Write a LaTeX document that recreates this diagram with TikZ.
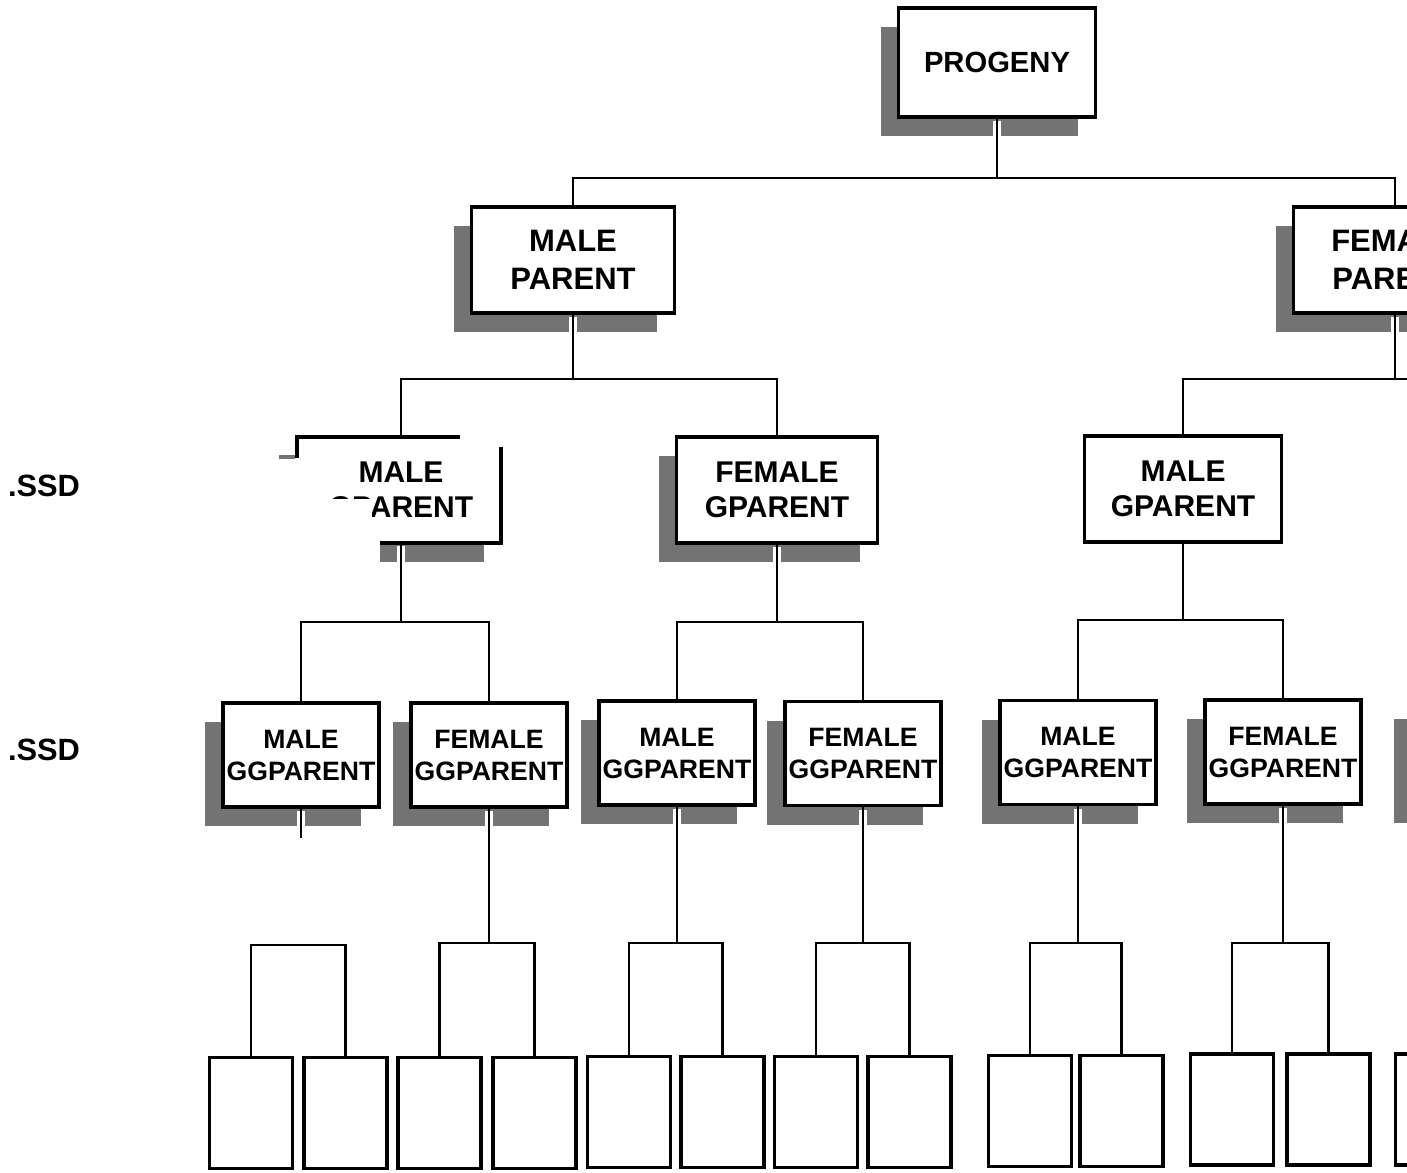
\documentclass[tikz,border=0pt]{standalone}
\usepackage{fontspec}
\setmainfont{Liberation Sans}
\usetikzlibrary{shadows}
\begin{document}
\begin{tikzpicture}[x=0.5pt,y=-0.5pt,
  card/.style={draw, line width=1.6pt, fill=white, inner sep=0pt, align=center},
  shade/.style={drop shadow={shadow xshift=-9pt, shadow yshift=-9.5pt, fill=black!55, opacity=1}},
  progbox/.style={card, shade, minimum width=98.5pt, minimum height=54.5pt,
    font=\bfseries\fontsize{14.6}{17}\selectfont},
  pbox/.style={card, shade, minimum width=101.5pt, minimum height=53pt,
    font=\bfseries\fontsize{15.5}{19}\selectfont},
  gbox/.style={card, minimum width=100.5pt, minimum height=53pt,
    font=\bfseries\fontsize{15}{17.5}\selectfont},
  ggbox/.style={card, shade, minimum width=78pt, minimum height=52pt,
    font=\bfseries\fontsize{13.3}{16}\selectfont},
  leaf/.style={draw, line width=1.7pt, fill=white, minimum width=41.5pt,
    minimum height=55.5pt, inner sep=0pt},
  side/.style={inner sep=0pt, font=\bfseries\fontsize{15.4}{18}\selectfont},
  link/.style={line width=1.1pt},
  frame/.style={line width=1.6pt, line join=miter},
  gap/.style={draw=white, line width=4pt}
]
\useasboundingbox (0,0) rectangle (1407,1172);
\fill[white] (0,0) rectangle (1407,1172);
\clip (0,0) rectangle (1407,1172);

% side labels
\node[side] (s1) at (44,486) {.SSD};
\node[side] (s2) at (44,750) {.SSD};

% top generations
\node[progbox] (prog) at (997,62.5) {PROGENY};
\node[pbox] (mp) at (573,260) {MALE\\PARENT};
\node[pbox] (fp) at (1395,260) {FEMALE\\PARENT};

% grandparents (the first one has a torn frame)
\node[inner sep=0pt, minimum width=102pt, minimum height=53pt, align=center,
  font=\bfseries\fontsize{15}{17.5}\selectfont] (g1) at (401,490) {MALE\\GPARENT};
\fill[white] (320,499) rectangle (372,524);
\fill[black!55] (380,545) rectangle (484,562);
\fill[black!55] (279,455) rectangle (295,459);
\draw[frame] (297,458) -- (297,437) -- (460,437);
\draw[frame] (380,543) -- (501,543) -- (501,447);
\node[gbox, shade] (g2) at (777,490) {FEMALE\\GPARENT};
\node[gbox, minimum width=98.5pt] (g3) at (1183,489) {MALE\\GPARENT};

% great-grandparents
\node[ggbox] (gg1) at (301,755) {MALE\\GGPARENT};
\node[ggbox] (gg2) at (489,755) {FEMALE\\GGPARENT};
\node[ggbox] (gg3) at (677,753) {MALE\\GGPARENT};
\node[ggbox] (gg4) at (863,753.5) {FEMALE\\GGPARENT};
\node[ggbox] (gg5) at (1078,752.5) {MALE\\GGPARENT};
\node[ggbox] (gg6) at (1283,752) {FEMALE\\GGPARENT};
\node[ggbox] (gg7) at (1490,752) {};

% empty boxes of the last row
\node[leaf] (l1a) at (251,1113) {};
\node[leaf] (l1b) at (345.5,1113) {};
\node[leaf] (l2a) at (439.5,1113) {};
\node[leaf] (l2b) at (534.5,1113) {};
\node[leaf] (l3a) at (629,1112) {};
\node[leaf] (l3b) at (722.5,1112) {};
\node[leaf] (l4a) at (816,1112) {};
\node[leaf] (l4b) at (909.5,1112) {};
\node[leaf] (l5a) at (1030,1111) {};
\node[leaf] (l5b) at (1121.5,1111) {};
\node[leaf] (l6a) at (1232,1109.5) {};
\node[leaf] (l6b) at (1328.5,1109.5) {};
\node[leaf] (l7a) at (1437,1109.5) {};

% cuts in the shadows where the lines leave the boxes
\foreach \n in {prog,mp,fp,g2,gg1,gg2,gg3,gg4,gg5,gg6}
  \draw[gap] ([yshift=-1.2pt]\n.south) -- ++(0,21);
\draw[gap] (401,545.5) -- (401,564);

% junction points
\coordinate (j0) at (997,178);
\coordinate (j1) at (573,379);
\coordinate (j1r) at (1395,379);
\coordinate (r1) at (1420,379);
\coordinate (j2) at (401,622);
\coordinate (j3) at (777,622);
\coordinate (j4) at (1183,620);
\coordinate (c1) at (301,838);
\coordinate (b1) at (300,945);
\coordinate (b2) at (489,943);
\coordinate (b3) at (677,943);
\coordinate (b4) at (863,943);
\coordinate (b5) at (1078,943);
\coordinate (b6) at (1283,943);

% connectors
\draw[link] (prog.south) -- (j0) -| (mp.north);
\draw[link] (j0) -| (fp.north);
\draw[link] (mp.south) -- (j1) -| (g1.north);
\draw[link] (j1) -| (g2.north);
\draw[link] (fp.south) -- (j1r) -| (g3.north);
\draw[link] (j1r) -- (r1);
\draw[link] (g1.south) -- (j2) -| (gg1.north);
\draw[link] (j2) -| (gg2.north);
\draw[link] (g2.south) -- (j3) -| (gg3.north);
\draw[link] (j3) -| (gg4.north);
\draw[link] (g3.south) -- (j4) -| (gg5.north);
\draw[link] (j4) -| (gg6.north);

\draw[link] (gg1.south) -- (c1);
\draw[link] (l1a.north) |- (b1) -| (l1b.north);
\draw[link] (gg2.south) -- (b2);
\draw[link] (l2a.north) |- (b2) -| (l2b.north);
\draw[link] (gg3.south) -- (b3);
\draw[link] (l3a.north) |- (b3) -| (l3b.north);
\draw[link] (gg4.south) -- (b4);
\draw[link] (l4a.north) |- (b4) -| (l4b.north);
\draw[link] (gg5.south) -- (b5);
\draw[link] (l5a.north) |- (b5) -| (l5b.north);
\draw[link] (gg6.south) -- (b6);
\draw[link] (l6a.north) |- (b6) -| (l6b.north);
\end{tikzpicture}
\end{document}
